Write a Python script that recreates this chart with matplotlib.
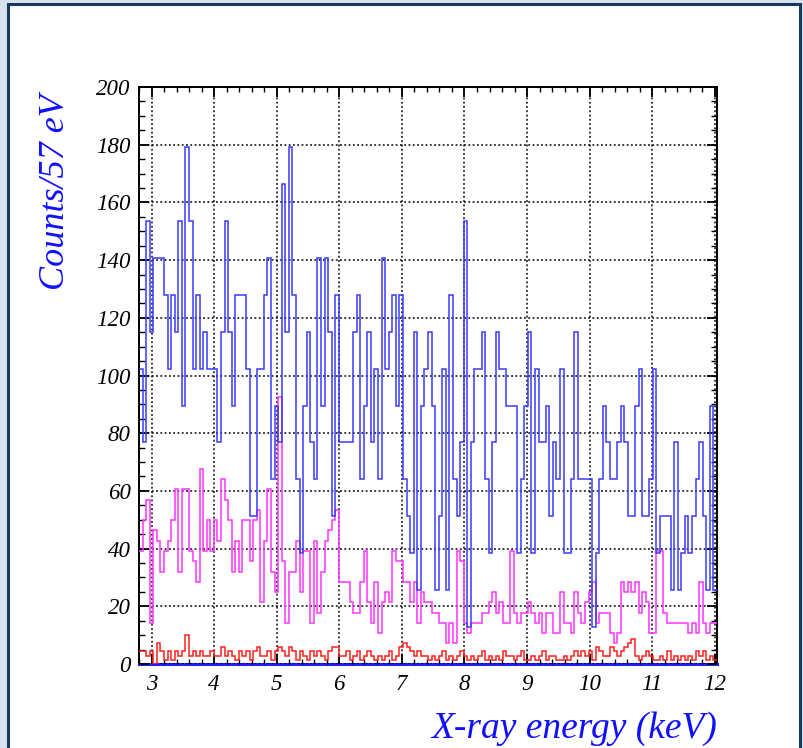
import numpy as np
import matplotlib.pyplot as plt
from matplotlib.ticker import MultipleLocator
from matplotlib.patches import Rectangle

# histogram binning: 57 eV bins starting at 2.8 keV
x_start = 2.8
bin_width = 0.057

# raw counts per bin, scaled by a normalisation factor for each spectrum
blue_counts = [8, 6, 12, 9, 11, 11, 11, 10, 8, 10, 9, 12, 7, 14, 12, 8, 10, 8, 9, 8,
               8, 8, 6, 9, 12, 9, 7, 10, 10, 10, 8, 4, 4, 8, 8, 10, 11, 5, 7, 6,
               13, 9, 14, 10, 5, 3, 7, 9, 6, 5, 11, 7, 11, 9, 4, 10, 6, 6, 6, 6,
               9, 10, 5, 7, 9, 6, 8, 5, 11, 8, 9, 10, 7, 10, 5, 4, 3, 9, 2, 7,
               8, 9, 7, 2, 4, 8, 2, 10, 5, 4, 6, 12, 1, 6, 8, 8, 9, 5, 3, 6,
               9, 8, 8, 7, 7, 7, 3, 5, 7, 9, 3, 8, 6, 6, 7, 4, 6, 5, 8, 3,
               3, 5, 9, 5, 5, 5, 5, 1, 3, 5, 7, 6, 5, 5, 6, 7, 6, 4, 4, 7,
               8, 4, 4, 5, 8, 3, 4, 4, 4, 2, 6, 2, 3, 4, 3, 4, 5, 6, 4, 2,
               7, 2]
blue_scale = 12.8

magenta_counts = [11, 14, 16, 4, 13, 12, 9, 11, 12, 14, 17, 9, 17, 17, 11, 10, 8, 19, 11, 14,
                  11, 14, 12, 18, 16, 14, 9, 12, 9, 14, 14, 10, 14, 15, 6, 12, 17, 9, 7, 26,
                  10, 4, 9, 9, 12, 7, 11, 11, 4, 12, 5, 9, 12, 13, 14, 15, 8, 8, 8, 6,
                  5, 5, 8, 11, 6, 4, 8, 3, 6, 7, 6, 11, 10, 10, 8, 8, 6, 8, 4, 7,
                  6, 6, 5, 5, 4, 4, 2, 4, 2, 11, 10, 4, 3, 4, 4, 4, 5, 5, 6, 7,
                  5, 6, 4, 4, 11, 5, 4, 5, 5, 6, 5, 4, 5, 3, 5, 5, 3, 3, 7, 4,
                  4, 3, 7, 5, 4, 6, 7, 8, 4, 5, 5, 5, 3, 2, 3, 8, 7, 8, 7, 8,
                  5, 7, 6, 3, 3, 11, 11, 5, 4, 4, 4, 4, 4, 4, 3, 4, 3, 8, 4, 3,
                  4, 4]
magenta_scale = 3.56

red_counts = [3, 3, 2, 3, 0, 5, 3, 1, 3, 1, 3, 2, 3, 7, 2, 3, 2, 3, 2, 2,
              3, 2, 2, 4, 2, 3, 2, 1, 3, 2, 3, 1, 3, 4, 2, 2, 3, 1, 3, 4,
              3, 2, 4, 3, 1, 3, 2, 1, 3, 2, 3, 2, 1, 3, 4, 4, 2, 2, 3, 1,
              2, 3, 1, 2, 3, 2, 1, 2, 1, 2, 3, 1, 2, 4, 5, 4, 3, 2, 3, 2,
              2, 1, 2, 1, 2, 3, 1, 2, 1, 2, 3, 2, 1, 2, 1, 2, 3, 1, 2, 1,
              2, 1, 3, 2, 2, 1, 2, 3, 1, 1, 2, 1, 2, 3, 1, 2, 2, 1, 1, 2,
              1, 2, 3, 2, 3, 2, 3, 1, 4, 3, 2, 2, 4, 3, 2, 3, 4, 5, 6, 2,
              1, 2, 3, 2, 1, 1, 2, 1, 3, 1, 2, 1, 2, 1, 2, 1, 3, 2, 3, 1,
              2, 1]
red_scale = 1.45

x_ticks = [3, 4, 5, 6, 7, 8, 9, 10, 11, 12]
y_ticks = [0, 20, 40, 60, 80, 100, 120, 140, 160, 180, 200]

edges = x_start + bin_width * np.arange(len(blue_counts) + 1)
blue = np.array(blue_counts) * blue_scale
magenta = np.array(magenta_counts) * magenta_scale
red = np.array(red_counts) * red_scale

W, H = 804, 748
fig = plt.figure(figsize=(W / 100, H / 100), dpi=100)
fig.patch.set_facecolor('#d9e3ee')
fig.patches.append(Rectangle((8 / W, -0.01), 792 / W, 1.01 - 4 / H,
                             transform=fig.transFigure, facecolor='white',
                             edgecolor='#173a5e', linewidth=2.2, zorder=-5))

ax = fig.add_axes([139 / W, 1 - 664 / H, 578 / W, 577 / H])
ax.set_zorder(2)
ax.patch.set_alpha(0)

ax.stairs(red, edges, color='#ff2020', linewidth=1.1, baseline=None, zorder=3)
ax.stairs(magenta, edges, color='#ff33ff', linewidth=1.1, baseline=None, zorder=4)
ax.stairs(blue, edges, color='#3a3aff', linewidth=1.1, baseline=None, zorder=5)

ax.set_xlim(edges[0], edges[-1])
ax.set_ylim(0, 200)

serif = ['Liberation Serif', 'DejaVu Serif']
ax.set_xticks(x_ticks)
ax.set_yticks(y_ticks)
ax.xaxis.set_minor_locator(MultipleLocator(0.2))
ax.yaxis.set_minor_locator(MultipleLocator(5))
ax.tick_params(which='both', direction='in', top=True, right=True, color='black')
ax.tick_params(axis='x', which='major', length=7, width=1.3, pad=7)
ax.tick_params(axis='x', which='minor', length=3.5, width=1.0)
ax.tick_params(axis='y', which='major', length=7, width=1.3, pad=6)
ax.tick_params(axis='y', which='minor', length=4, width=1.0)
for lab in ax.get_xticklabels() + ax.get_yticklabels():
    lab.set_family(serif)
    lab.set_style('italic')
    lab.set_fontsize(16.5)

ax.grid(True, which='major', color='black', linestyle=(0, (1.2, 1.6)), linewidth=1.1)
ax.set_axisbelow(False)
for s in ax.spines.values():
    s.set_linewidth(1.4)
ax.spines['bottom'].set_color('#2020ff')
ax.spines['bottom'].set_linewidth(2.2)

fig.text(56 / W, 1 - 192 / H, 'Counts/57 eV', rotation=90, ha='center', va='center',
         color='#1010ff', fontsize=26, style='italic', family=serif)
fig.text(717 / W, 1 - 729 / H, 'X-ray energy (keV)', ha='right', va='center',
         color='#1010ff', fontsize=27, style='italic', family=serif)

fig.savefig('out.png', dpi=100, facecolor=fig.get_facecolor())
